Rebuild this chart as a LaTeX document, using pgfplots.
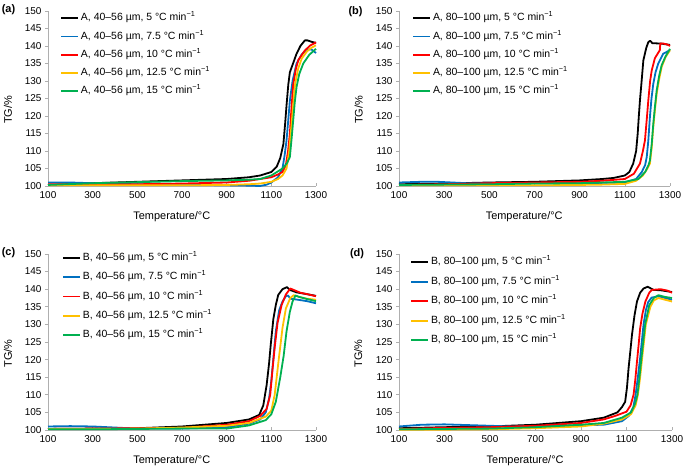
\documentclass[border=0pt]{standalone}
\usepackage{fontspec}
\setmainfont{Liberation Sans}
\usepackage{pgfplots}
\pgfplotsset{compat=1.18}
\definecolor{cblue}{RGB}{0,112,192}
\definecolor{cred}{RGB}{255,0,0}
\definecolor{cyel}{RGB}{255,192,0}
\definecolor{cgreen}{RGB}{0,176,80}
\definecolor{axgray}{RGB}{175,175,175}
\newcommand{\lab}[3]{#1, #2 µm, #3 °C min\textsuperscript{−1}}
\pgfplotsset{
 tg/.style={
  scale only axis, xmin=100, xmax=1300, ymin=100, ymax=150,
  xtick={100,300,...,1300}, ytick={100,105,...,150},
  axis x line=bottom, axis y line=left,
  x axis line style={-, draw=axgray, line width=0.6bp},
  y axis line style={-, draw=axgray, line width=0.6bp},
  xtick style={draw=axgray, line width=0.6bp, yshift=3bp},
  ytick style={draw=axgray, line width=0.6bp},
  tick align=outside, major tick length=3bp,
  /pgf/number format/1000 sep={},
  /pgf/number format/assume math mode=true,
  tick label style={font=\fontsize{10}{12}\selectfont},
  xticklabel style={yshift=1bp},
  xlabel={Temperature/°C}, ylabel={TG/\%},
  label style={font=\fontsize{11}{13}\selectfont},
  xlabel style={at={(axis description cs:0.462,-0.175)}, anchor=center},
  ylabel style={at={(axis description cs:-0.149,0.435)}, anchor=center},
  clip=false,
  every axis plot/.append style={line width=1.8bp, line join=round, mark=none},
  legend cell align=left,
  legend image code/.code={\draw[##1, line width=1.8bp] (0bp,0bp) -- (17bp,0bp);},
  legend style={draw=none, fill=none, at={(0,1)}, anchor=north west,
    font=\fontsize{10.5}{12}\selectfont, inner sep=0pt,
    nodes={inner sep=1bp, text height=7.5bp, text depth=2.5bp}, column sep=1bp},
 }
}
\begin{document}
\begin{tikzpicture}
\useasboundingbox (0,0) rectangle (685bp,470bp);
\node[font=\bfseries\fontsize{11}{13}\selectfont] at (8.5bp,460bp) {(a)};
\node[font=\bfseries\fontsize{11}{13}\selectfont] at (355.5bp,458bp) {(b)};
\node[font=\bfseries\fontsize{11}{13}\selectfont] at (8.5bp,217bp) {(c)};
\node[font=\bfseries\fontsize{11}{13}\selectfont] at (357bp,216bp) {(d)};
% (a)
\begin{axis}[tg, at={(48bp,284bp)}, anchor=south west, width=268bp, height=175bp,
  legend style={xshift=12bp, yshift=-1bp, row sep=6.3bp}]
\addplot[black] coordinates {(100,100.3)(200,100.5)(300,100.8)(500,101.2)(700,101.6)(900,102)(1000,102.5)(1050,103)(1100,104)(1124,105.5)(1140,108)(1154,112)(1162,118)(1168,123)(1176,129)(1183,132.5)(1200,135.5)(1213,137.8)(1230,140)(1250,141.6)(1262,141.6)(1280,141.2)(1300,140.9)};
\addplot[cblue] coordinates {(100,101)(200,101)(300,100.8)(400,100.6)(500,100.5)(700,100.4)(900,100.2)(1000,100.1)(1050,100)(1080,100.4)(1100,101)(1130,102.5)(1150,105)(1160,109)(1168,113)(1176,119)(1183,124.4)(1195,130)(1213,135)(1235,137.5)(1258,139)(1280,139)(1290,138.5)(1300,138)};
\addplot[cred] coordinates {(100,100.5)(300,100.5)(500,100.5)(700,100.7)(900,101)(1000,101.5)(1050,102)(1100,102.5)(1130,103.3)(1150,104)(1165,106)(1175,110)(1183,115)(1190,122)(1198,129)(1210,133.5)(1221,136)(1250,138.7)(1275,140.2)(1300,141)};
\addplot[cyel] coordinates {(100,100.2)(300,100.2)(500,100.2)(700,100.2)(900,100.3)(1000,100.5)(1050,100.7)(1100,101.2)(1130,102)(1150,103)(1168,105)(1180,110)(1191,117.8)(1199,124)(1206,129)(1220,133.5)(1236,136.4)(1260,138.5)(1280,139.5)(1300,140.2)};
\addplot[cgreen] coordinates {(100,100.3)(300,100.8)(500,101.1)(700,101.4)(900,101.6)(1000,101.8)(1050,102)(1100,103)(1150,105)(1170,106.5)(1183,108.3)(1190,113)(1198,118.8)(1205,124)(1213,128.3)(1225,132)(1243,135)(1270,137.5)(1300,139.2)};
\legend{\lab{A}{40–56}{5},\lab{A}{40–56}{7.5},\lab{A}{40–56}{10},\lab{A}{40–56}{12.5},\lab{A}{40–56}{15}}
\end{axis}
% (b)
\begin{axis}[tg, at={(399bp,284bp)}, anchor=south west, width=271bp, height=175bp,
  legend style={xshift=13bp, yshift=-1bp, row sep=6.3bp}]
\addplot[black] coordinates {(100,100.5)(300,100.7)(500,101)(700,101.2)(900,101.6)(1000,102)(1050,102.3)(1100,103)(1120,104)(1137,106.4)(1150,110)(1157,115)(1162,120)(1167,124.5)(1175,130.5)(1182,135.9)(1195,139.5)(1204,141.1)(1212,141.5)(1222,140.8)(1260,140.7)(1300,140.3)};
\addplot[cblue] coordinates {(100,101)(200,101.2)(270,101.2)(400,100.8)(500,100.8)(700,100.8)(900,100.8)(1000,100.9)(1100,101)(1150,102)(1175,104)(1190,106)(1197,108.3)(1204,113)(1211,119.7)(1218,125)(1226,129.2)(1236,132.5)(1248,135)(1270,137.8)(1300,138.8)};
\addplot[cred] coordinates {(100,100.3)(300,100.5)(500,100.8)(700,101)(900,101.2)(1000,101.5)(1100,102)(1140,103.5)(1167,106.4)(1180,110)(1189,113)(1197,119)(1204,124.5)(1212,130)(1219,133)(1233,136.5)(1250,138.3)(1255,138.8)(1257,140.7)(1270,140.7)(1290,140.4)(1300,140)};
\addplot[cyel] coordinates {(100,100.2)(300,100.2)(500,100.2)(700,100.2)(900,100.3)(1000,100.4)(1100,100.6)(1150,101.5)(1180,103)(1200,105)(1211,106.4)(1219,111)(1226,116.9)(1233,121.5)(1241,126.4)(1252,130.5)(1263,134)(1280,136.8)(1300,138.8)};
\addplot[cgreen] coordinates {(100,100.3)(300,100.4)(500,100.5)(700,100.7)(900,100.8)(1000,101)(1100,101.2)(1160,102)(1190,104)(1205,106)(1211,107.3)(1219,112)(1226,117.8)(1233,122.5)(1241,127.3)(1252,131.5)(1263,134.5)(1280,137)(1300,139.2)};
\legend{\lab{A}{80–100}{5},\lab{A}{80–100}{7.5},\lab{A}{80–100}{10},\lab{A}{80–100}{12.5},\lab{A}{80–100}{15}}
\end{axis}
% (c)
\begin{axis}[tg, at={(48bp,40bp)}, anchor=south west, width=268bp, height=176bp,
  legend style={xshift=14bp, yshift=2bp, row sep=7.2bp}]
\addplot[black] coordinates {(100,100.3)(300,100.4)(500,100.5)(700,101)(900,102)(1000,103)(1046,104.3)(1064,107)(1079,112.8)(1090,119)(1097,124)(1109,131.5)(1120,135.5)(1131,138.4)(1150,140)(1170,140.6)(1183,139.8)(1213,139.1)(1250,138.7)(1300,138.1)};
\addplot[cblue] coordinates {(100,101)(200,101.1)(300,101)(400,100.7)(500,100.4)(700,100.4)(900,100.8)(1000,101.8)(1050,103)(1075,105)(1090,109)(1100,114)(1110,121)(1120,128)(1135,134)(1150,136.5)(1165,138)(1175,138.2)(1185,137.3)(1220,137)(1260,136.6)(1300,136)};
\addplot[cred] coordinates {(100,100.3)(300,100.4)(500,100.5)(700,100.6)(900,101.5)(1000,102.5)(1050,104)(1079,106)(1095,110)(1105,117)(1116,124)(1128,130.5)(1146,135.5)(1165,138.5)(1185,140.2)(1200,139.8)(1230,139)(1260,138.6)(1300,138)};
\addplot[cyel] coordinates {(100,100.3)(300,100.3)(500,100.4)(700,100.7)(900,101.2)(1000,102)(1075,103.8)(1100,105.5)(1115,110)(1133,120)(1150,129)(1165,134.5)(1185,137.5)(1200,138.3)(1225,137.8)(1260,137.3)(1300,137)};
\addplot[cgreen] coordinates {(100,100.2)(300,100.2)(500,100.3)(700,100.4)(900,100.4)(1000,101.3)(1075,102.8)(1100,104.5)(1120,108)(1140,115)(1155,121)(1168,128)(1183,133.6)(1195,136.5)(1208,138.2)(1225,137.8)(1260,137.2)(1300,136.6)};
\legend{\lab{B}{40–56}{5},\lab{B}{40–56}{7.5},\lab{B}{40–56}{10},\lab{B}{40–56}{12.5},\lab{B}{40–56}{15}}
\end{axis}
% (d)
\begin{axis}[tg, at={(399bp,40bp)}, anchor=south west, width=273bp, height=176bp,
  legend style={xshift=11bp, yshift=-2bp, row sep=7.5bp}]
\addplot[black] coordinates {(100,100.5)(300,100.8)(500,101)(700,101.5)(900,102.5)(1000,103.5)(1060,105)(1080,106.5)(1094,108)(1102,112)(1109,117.5)(1117,122.5)(1124,127)(1135,132.5)(1146,136.5)(1160,139)(1175,140.2)(1193,140.7)(1219,139.8)(1250,139.7)(1300,139.2)};
\addplot[cblue] coordinates {(100,101)(200,101.5)(300,101.6)(500,101.2)(600,101)(800,101.2)(1000,101.5)(1080,102.5)(1110,104)(1130,106.5)(1140,110)(1150,115)(1160,120.5)(1175,130)(1185,134)(1195,136.3)(1210,137.6)(1240,138)(1270,137.5)(1300,137)};
\addplot[cred] coordinates {(100,100.3)(300,100.6)(500,100.8)(700,101.2)(900,102)(1000,103)(1050,104)(1100,105.2)(1118,107)(1131,110)(1139,114.5)(1146,119.4)(1153,124)(1160,128.9)(1170,133)(1183,136.5)(1200,139)(1212,139.8)(1250,140)(1280,139.6)(1300,139)};
\addplot[cyel] coordinates {(100,100.1)(300,100.1)(500,100.2)(700,100.5)(900,101)(1000,101.8)(1080,103)(1120,104.5)(1140,107)(1150,110)(1160,115)(1168,120)(1185,130)(1205,135)(1220,136.8)(1240,137.5)(1270,137)(1300,136.5)};
\addplot[cgreen] coordinates {(100,100.2)(300,100.3)(500,100.4)(700,100.8)(900,101.5)(1000,102)(1080,103.5)(1120,105)(1138,107.5)(1148,110)(1157,115)(1165,120)(1182,130)(1200,135.5)(1220,137.5)(1240,138.3)(1270,137.8)(1300,137.5)};
\legend{\lab{B}{80–100}{5},\lab{B}{80–100}{7.5},\lab{B}{80–100}{10},\lab{B}{80–100}{12.5},\lab{B}{80–100}{15}}
\end{axis}
\end{tikzpicture}
\end{document}
